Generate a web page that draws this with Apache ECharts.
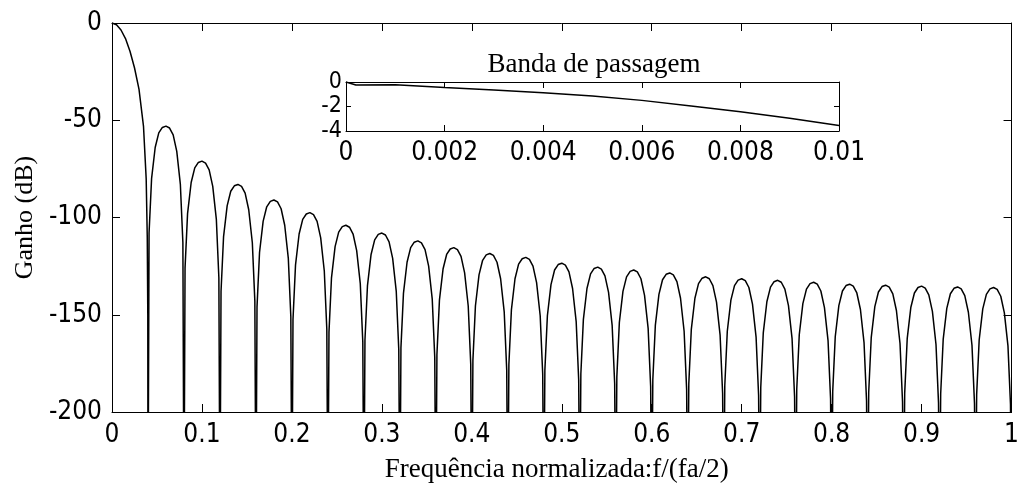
<!DOCTYPE html>
<html>
<head>
<meta charset="utf-8">
<script src="https://cdn.jsdelivr.net/npm/echarts@6/dist/echarts.min.js"></script>
<style>
html,body{margin:0;padding:0;background:#fff;}
#chart{width:1022px;height:488px;}
</style>
</head>
<body>
<div id="chart"></div>
<script>
// ---- main response: normalised frequency and gain (dB) ----
const freq = [
  0, 0.005, 0.01, 0.015, 0.02, 0.025, 0.03, 0.035, 0.038, 0.0392, 0.0398,
  0.04, 0.0412, 0.044, 0.048, 0.052, 0.056, 0.06, 0.064, 0.068, 0.072, 0.076, 0.0788,
  0.08, 0.0812, 0.084, 0.088, 0.092, 0.096, 0.1, 0.104, 0.108, 0.112, 0.116, 0.1188,
  0.12, 0.1212, 0.124, 0.128, 0.132, 0.136, 0.14, 0.144, 0.148, 0.152, 0.156, 0.1588,
  0.16, 0.1612, 0.164, 0.168, 0.172, 0.176, 0.18, 0.184, 0.188, 0.192, 0.196, 0.1988,
  0.2, 0.2012, 0.204, 0.208, 0.212, 0.216, 0.22, 0.224, 0.228, 0.232, 0.236, 0.2388,
  0.24, 0.2412, 0.244, 0.248, 0.252, 0.256, 0.26, 0.264, 0.268, 0.272, 0.276, 0.2788,
  0.28, 0.2812, 0.284, 0.288, 0.292, 0.296, 0.3, 0.304, 0.308, 0.312, 0.316, 0.3188,
  0.32, 0.3212, 0.324, 0.328, 0.332, 0.336, 0.34, 0.344, 0.348, 0.352, 0.356, 0.3588,
  0.36, 0.3612, 0.364, 0.368, 0.372, 0.376, 0.38, 0.384, 0.388, 0.392, 0.396, 0.3988,
  0.4, 0.4012, 0.404, 0.408, 0.412, 0.416, 0.42, 0.424, 0.428, 0.432, 0.436, 0.4388,
  0.44, 0.4412, 0.444, 0.448, 0.452, 0.456, 0.46, 0.464, 0.468, 0.472, 0.476, 0.4788,
  0.48, 0.4812, 0.484, 0.488, 0.492, 0.496, 0.5, 0.504, 0.508, 0.512, 0.516, 0.5188,
  0.52, 0.5212, 0.524, 0.528, 0.532, 0.536, 0.54, 0.544, 0.548, 0.552, 0.556, 0.5588,
  0.56, 0.5612, 0.564, 0.568, 0.572, 0.576, 0.58, 0.584, 0.588, 0.592, 0.596, 0.5988,
  0.6, 0.6012, 0.604, 0.608, 0.612, 0.616, 0.62, 0.624, 0.628, 0.632, 0.636, 0.6388,
  0.64, 0.6412, 0.644, 0.648, 0.652, 0.656, 0.66, 0.664, 0.668, 0.672, 0.676, 0.6788,
  0.68, 0.6812, 0.684, 0.688, 0.692, 0.696, 0.7, 0.704, 0.708, 0.712, 0.716, 0.7188,
  0.72, 0.7212, 0.724, 0.728, 0.732, 0.736, 0.74, 0.744, 0.748, 0.752, 0.756, 0.7588,
  0.76, 0.7612, 0.764, 0.768, 0.772, 0.776, 0.78, 0.784, 0.788, 0.792, 0.796, 0.7988,
  0.8, 0.8012, 0.804, 0.808, 0.812, 0.816, 0.82, 0.824, 0.828, 0.832, 0.836, 0.8388,
  0.84, 0.8412, 0.844, 0.848, 0.852, 0.856, 0.86, 0.864, 0.868, 0.872, 0.876, 0.8788,
  0.88, 0.8812, 0.884, 0.888, 0.892, 0.896, 0.9, 0.904, 0.908, 0.912, 0.916, 0.9188,
  0.92, 0.9212, 0.924, 0.928, 0.932, 0.936, 0.94, 0.944, 0.948, 0.952, 0.956, 0.9588,
  0.96, 0.9612, 0.964, 0.968, 0.972, 0.976, 0.98, 0.984, 0.988, 0.992, 0.996, 0.9988,
  1.0
];
const gainDb = [
  0, -0.9, -3.6, -8, -14.5, -23, -34, -53, -80, -110, -150,
  -260, -108, -80, -64, -56.5, -53.7, -53, -54, -57.5, -66, -83, -113,
  -260, -126, -98, -82, -74.5, -71.7, -71, -72, -75.5, -84, -101, -131,
  -260, -138, -110, -94, -86.5, -83.7, -83, -84, -87.5, -96, -113, -143,
  -260, -146, -118, -102, -94.5, -91.7, -91, -92, -95.5, -104, -121, -151,
  -260, -152.5, -124.5, -108.5, -101, -98.2, -97.5, -98.5, -102, -110.5, -127.5, -157.5,
  -260, -159, -131, -115, -107.5, -104.7, -104, -105, -108.5, -117, -134, -164,
  -260, -163, -135, -119, -111.5, -108.7, -108, -109, -112.5, -121, -138, -168,
  -260, -167, -139, -123, -115.5, -112.7, -112, -113, -116.5, -125, -142, -172,
  -260, -170.5, -142.5, -126.5, -119, -116.2, -115.5, -116.5, -120, -128.5, -145.5, -175.5,
  -260, -173.5, -145.5, -129.5, -122, -119.2, -118.5, -119.5, -123, -131.5, -148.5, -178.5,
  -260, -175.5, -147.5, -131.5, -124, -121.2, -120.5, -121.5, -125, -133.5, -150.5, -180.5,
  -260, -178.5, -150.5, -134.5, -127, -124.2, -123.5, -124.5, -128, -136.5, -153.5, -183.5,
  -260, -180.5, -152.5, -136.5, -129, -126.2, -125.5, -126.5, -130, -138.5, -155.5, -185.5,
  -260, -182, -154, -138, -130.5, -127.7, -127, -128, -131.5, -140, -157, -187,
  -260, -183.5, -155.5, -139.5, -132, -129.2, -128.5, -129.5, -133, -141.5, -158.5, -188.5,
  -260, -185.5, -157.5, -141.5, -134, -131.2, -130.5, -131.5, -135, -143.5, -160.5, -190.5,
  -260, -186.5, -158.5, -142.5, -135, -132.2, -131.5, -132.5, -136, -144.5, -161.5, -191.5,
  -260, -187.3, -159.3, -143.3, -135.8, -133, -132.3, -133.3, -136.8, -145.3, -162.3, -192.3,
  -260, -188.3, -160.3, -144.3, -136.8, -134, -133.3, -134.3, -137.8, -146.3, -163.3, -193.3,
  -260, -189.3, -161.3, -145.3, -137.8, -135, -134.3, -135.3, -138.8, -147.3, -164.3, -194.3,
  -260, -189.8, -161.8, -145.8, -138.3, -135.5, -134.8, -135.8, -139.3, -147.8, -164.8, -194.8,
  -260, -190.3, -162.3, -146.3, -138.8, -136, -135.3, -136.3, -139.8, -148.3, -165.3, -195.3,
  -260, -190.7, -162.7, -146.7, -139.2, -136.4, -135.7, -136.7, -140.2, -148.7, -165.7, -195.7,
  -260, -191, -163, -147, -139.5, -136.7, -136, -137, -140.5, -149, -166, -196,
  -260
];

// ---- passband inset ----
const insetFreq = [0, 0.0002, 0.001, 0.002, 0.003, 0.004, 0.005, 0.006, 0.007, 0.008, 0.009, 0.01];
const insetGainDb = [0, -0.25, -0.22, -0.45, -0.65, -0.88, -1.15, -1.5, -1.95, -2.42, -2.95, -3.55];

// ---- text ----
const xTitle = 'Frequência normalizada:f/(fa/2)';
const yTitle = 'Ganho (dB)';
const insetTitle = 'Banda de passagem';

const serif = "'Liberation Serif', 'DejaVu Serif', serif";
const tickFont = "'Liberation Sans Narrow', 'DejaVu Sans Condensed', 'Liberation Sans', sans-serif";
const black = '#000';

function axisCommon(extra) {
  return Object.assign({
    axisLine: { show: true, onZero: false, lineStyle: { color: black, width: 1 } },
    splitLine: { show: false },
    axisTick: { show: true, inside: true, length: 8, lineStyle: { color: black, width: 1 } },
    axisLabel: { show: true, color: black, fontFamily: tickFont, fontSize: 26 }
  }, extra);
}

const mainData = freq.map((f, i) => [f, gainDb[i]]);
const insetData = insetFreq.map((f, i) => [f, insetGainDb[i]]);

const chart = echarts.init(document.getElementById('chart'), null, { renderer: 'canvas' });
chart.setOption({
  animation: false,
  backgroundColor: '#fff',
  grid: [
    { left: 112, right: 1, top: 23, bottom: 71, containLabel: false },
    { left: 346, right: 183, top: 82, bottom: 357, containLabel: false, show: true, backgroundColor: '#fff', borderWidth: 0 }
  ],
  title: [
    { text: insetTitle, left: 589, top: 46, textAlign: 'center',
      textStyle: { fontFamily: serif, fontSize: 27, fontWeight: 'normal', color: black } }
  ],
  xAxis: [
    axisCommon({ gridIndex: 0, type: 'value', min: 0, max: 1, interval: 0.1, position: 'bottom',
      name: xTitle, nameLocation: 'middle', nameGap: 44,
      nameTextStyle: { fontFamily: serif, fontSize: 27, color: black, padding: [0, 10, 0, 0] },
      axisLabel: { show: true, color: black, fontFamily: tickFont, fontSize: 26, margin: 10 } }),
    axisCommon({ gridIndex: 0, type: 'value', min: 0, max: 1, interval: 0.1, position: 'top',
      axisLabel: { show: false } }),
    axisCommon({ gridIndex: 1, type: 'value', min: 0, max: 0.01, interval: 0.002, position: 'bottom',
      axisTick: { show: true, inside: true, length: 6, lineStyle: { color: black } },
      axisLabel: { show: true, color: black, fontFamily: tickFont, fontSize: 26, margin: 9,
        showMinLabel: true, showMaxLabel: true, hideOverlap: false } }),
    axisCommon({ gridIndex: 1, type: 'value', min: 0, max: 0.01, interval: 0.002, position: 'top',
      axisTick: { show: true, inside: true, length: 6, lineStyle: { color: black } },
      axisLabel: { show: false } })
  ],
  yAxis: [
    axisCommon({ gridIndex: 0, type: 'value', min: -200, max: 0, interval: 50, position: 'left',
      name: yTitle, nameLocation: 'middle', nameGap: 74, nameRotate: 90,
      nameTextStyle: { fontFamily: serif, fontSize: 26, color: black },
      axisLabel: { show: true, color: black, fontFamily: tickFont, fontSize: 26, margin: 10 } }),
    axisCommon({ gridIndex: 0, type: 'value', min: -200, max: 0, interval: 50, position: 'right',
      axisLabel: { show: false } }),
    axisCommon({ gridIndex: 1, type: 'value', min: -4, max: 0, interval: 2, position: 'left',
      axisTick: { show: true, inside: true, length: 5, lineStyle: { color: black } },
      axisLabel: { show: true, color: black, fontFamily: tickFont, fontSize: 23, margin: 4, lineHeight: 12,
        showMinLabel: true, showMaxLabel: true, hideOverlap: false } }),
    axisCommon({ gridIndex: 1, type: 'value', min: -4, max: 0, interval: 2, position: 'right',
      axisTick: { show: true, inside: true, length: 5, lineStyle: { color: black } },
      axisLabel: { show: false } })
  ],
  series: [
    { type: 'line', xAxisIndex: 0, yAxisIndex: 0, data: mainData, showSymbol: false, symbol: 'none',
      clip: true, lineStyle: { color: black, width: 1.5 } },
    { type: 'line', xAxisIndex: 2, yAxisIndex: 2, data: insetData, showSymbol: false, symbol: 'none',
      clip: true, lineStyle: { color: black, width: 1.5 } }
  ]
});
</script>
</body>
</html>
